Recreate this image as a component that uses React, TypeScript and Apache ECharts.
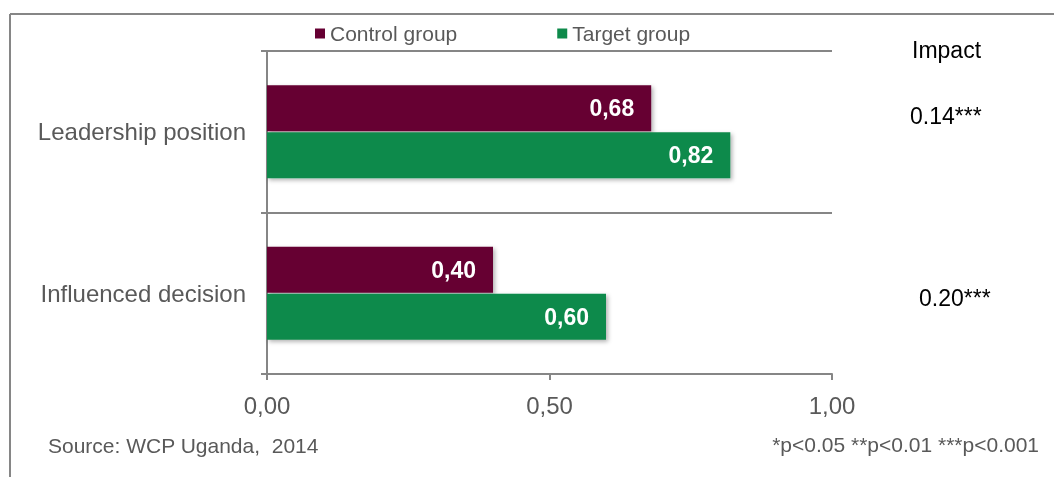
import React, { useEffect, useRef } from "react";
import * as echarts from "echarts";

const categories = ["Leadership position", "Influenced decision"];
const controlValues = [0.68, 0.4];
const targetValues = [0.82, 0.6];
const impactLabels = ["0.14***", "0.20***"];
const xTicks = [0, 0.5, 1];
const seriesNames = ["Control group", "Target group"];

const FONT = "Liberation Sans, Arial, sans-serif";
const MAROON = "#660033";
const GREEN = "#0E8A4B";
const AXIS = "#868686";
const GREY_TEXT = "#595959";

export default function App() {
  const ref = useRef<HTMLDivElement>(null);
  useEffect(() => {
    document.body.style.margin = "0";
    const chart = echarts.init(ref.current!, null, { renderer: "svg" });
    const fmt = (v: number) => v.toFixed(2).replace(".", ",");
    const barLabel = {
      show: true,
      position: "insideRight",
      distance: 17,
      color: "#fff",
      fontWeight: "bold",
      fontSize: 23,
      fontFamily: FONT,
      formatter: (p: any) => fmt(p.value),
    };
    const shadow = {
      shadowBlur: 4,
      shadowOffsetX: 2,
      shadowOffsetY: 2,
      shadowColor: "rgba(0,0,0,0.3)",
    };
    const txt = (text: string, x: number, y: number, size: number, fill: string, align = "left") => ({
      type: "text",
      x,
      y,
      style: { text, fontSize: size, fill, fontFamily: FONT, align, verticalAlign: "middle" },
    });
    chart.setOption({
      animation: false,
      textStyle: { fontFamily: FONT },
      legend: {
        data: seriesNames,
        top: 18,
        left: 310,
        itemWidth: 10,
        itemHeight: 10,
        itemGap: 100,
        icon: "rect",
        textStyle: { fontSize: 21, color: GREY_TEXT, fontFamily: FONT },
      },
      grid: { left: 267, right: 222, top: 51, bottom: 103 },
      xAxis: {
        type: "value",
        min: 0,
        max: 1,
        interval: 0.5,
        axisLine: { show: true, lineStyle: { color: AXIS, width: 2 } },
        axisTick: { show: true, length: 6, lineStyle: { color: AXIS, width: 2 } },
        splitLine: { show: false },
        axisLabel: {
          fontSize: 24,
          color: GREY_TEXT,
          fontFamily: FONT,
          margin: 19,
          formatter: (v: number) => (xTicks.includes(v) ? fmt(v) : ""),
        },
      },
      yAxis: {
        type: "category",
        data: categories,
        inverse: true,
        axisLine: { show: true, lineStyle: { color: AXIS, width: 2 } },
        axisTick: { show: true, length: 6, lineStyle: { color: AXIS, width: 2 } },
        splitLine: { show: true, lineStyle: { color: AXIS, width: 2 } },
        axisLabel: { fontSize: 24, color: GREY_TEXT, fontFamily: FONT, margin: 21 },
      },
      series: [
        {
          name: seriesNames[0],
          type: "bar",
          data: controlValues,
          barWidth: 46,
          barGap: "2%",
          itemStyle: { color: MAROON, ...shadow },
          label: barLabel,
        },
        {
          name: seriesNames[1],
          type: "bar",
          data: targetValues,
          barWidth: 46,
          barGap: "2%",
          itemStyle: { color: GREEN, ...shadow },
          label: barLabel,
        },
      ],
      graphic: [
        { type: "line", shape: { x1: 10, y1: 14, x2: 1054, y2: 14 }, style: { stroke: AXIS, lineWidth: 2 } },
        { type: "line", shape: { x1: 10, y1: 14, x2: 10, y2: 477 }, style: { stroke: AXIS, lineWidth: 2 } },
        txt("Impact", 912, 50, 23, "#000"),
        txt(impactLabels[0], 910, 116, 23, "#000"),
        txt(impactLabels[1], 919, 298, 23, "#000"),
        txt("Source: WCP Uganda,  2014", 48, 445, 21, GREY_TEXT),
        txt("*p<0.05 **p<0.01 ***p<0.001", 1039, 444, 21, GREY_TEXT, "right"),
      ],
    });
    return () => chart.dispose();
  }, []);
  return <div ref={ref} style={{ width: 1054, height: 477, position: "fixed", left: 0, top: 0 }} />;
}
